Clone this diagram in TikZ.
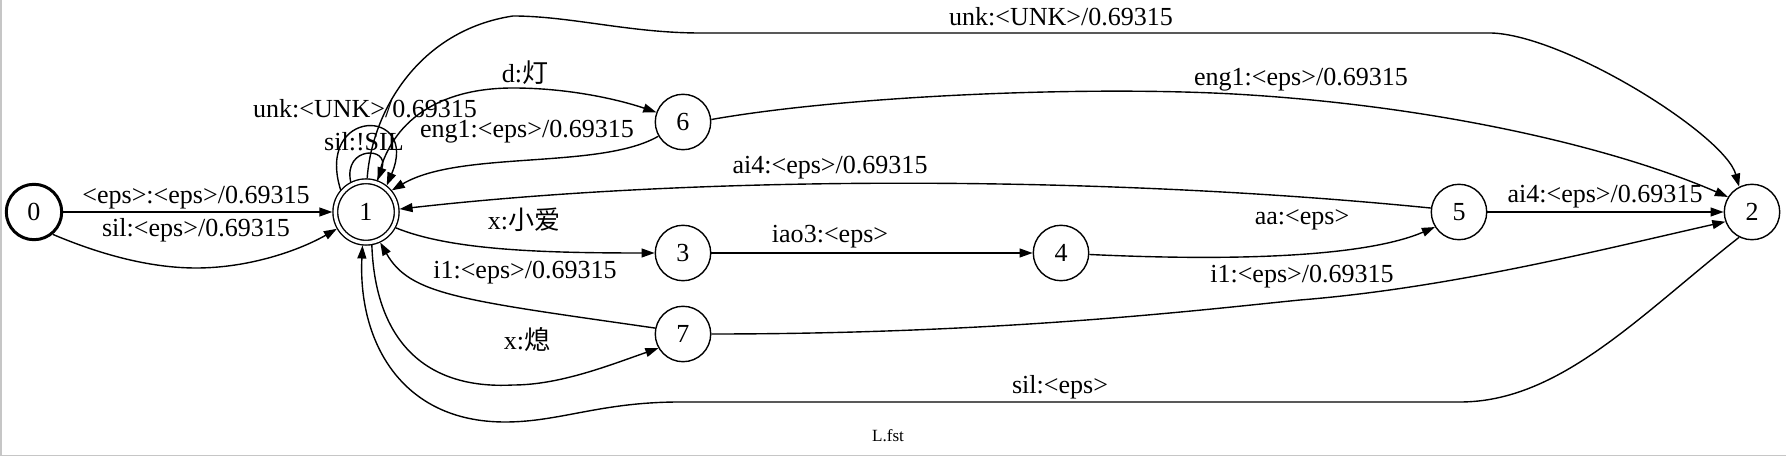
\documentclass[tikz,border=0pt]{standalone}
\usepackage{fontspec}
\setmainfont{Liberation Serif}
\newfontfamily\cjk{Noto Sans CJK SC}
\usetikzlibrary{arrows.meta, automata}

\begin{document}
\begin{tikzpicture}[x=0.5376pt, y=-0.5376pt, ->, >={Triangle[length=7pt,width=4.8pt]},
    line width=0.75pt,
    every state/.style={draw, minimum size=29.8pt, inner sep=0pt, line width=0.75pt,
        font=\fontsize{14}{16}\selectfont},
    lbl/.style={inner sep=0pt, font=\fontsize{14}{16}\selectfont}]

    \useasboundingbox (0,0) rectangle (1786,457);
    \draw[-, gray!45, line width=1pt] (1,0) -- (1,455.5) -- (1786,455.5);

    \node[state, line width=1.6pt] (n0) at (34,212) {0};
    \node[state, accepting, minimum size=33pt, double distance=1.8pt, outer sep=1.6pt] (n1) at (366,212) {1};
    \node[state] (n6) at (683,122)  {6};
    \node[state] (n3) at (683,253)  {3};
    \node[state] (n7) at (683,334)  {7};
    \node[state] (n4) at (1061,253) {4};
    \node[state] (n5) at (1459,212) {5};
    \node[state] (n2) at (1752,212) {2};

    \draw (n0) -- (n1) node[lbl] at (196,198) {<eps>:<eps>/0.69315};
    \draw (n0.-50) .. controls (85,248) and (140,268) .. (196,268)
          .. controls (250,268) and (300,250) .. (n1.-150)
          node[lbl] at (196,230) {sil:<eps>/0.69315};
    \draw (n1.117) .. controls (343,146) and (390,146) .. (n1.70)
          node[lbl] at (364,142) {sil:!SIL};
    \draw (n1.139) .. controls (315,107) and (420,107) .. (n1.52)
          node[lbl] at (365,109) {unk:<UNK>/0.69315};
    \draw (n1.88) .. controls (372,110) and (420,30) .. (513,16)
          .. controls (570,16) and (630,33) .. (700,33) -- (1491,33)
          .. controls (1565,35) and (1725,135) .. (n2.117)
          node[lbl] at (1061,17) {unk:<UNK>/0.69315};
    \draw (n1.70) .. controls (390,120) and (440,88) .. (513,88)
          .. controls (570,88) and (620,100) .. (n6.160)
          node[lbl] at (525,73) {d:{\cjk 灯}};
    \draw (n6.210) .. controls (600,170) and (460,150) .. (n1.40)
          node[lbl] at (527,132) {eng1:<eps>/0.69315};
    \draw (n6.5) .. controls (850,95) and (1100,85) .. (1250,95)
          .. controls (1450,108) and (1620,150) .. (n2.148)
          node[lbl] at (1301,80) {eng1:<eps>/0.69315};
    \draw (n5.172) .. controls (1100,175) and (700,175) .. (n1.5)
          node[lbl] at (830,168) {ai4:<eps>/0.69315};
    \draw (n1.-28) .. controls (450,250) and (540,253) .. (n3)
          node[lbl] at (524,220) {x:{\cjk 小爱}};
    \draw (n3) -- (n4) node[lbl] at (830,237) {iao3:<eps>};
    \draw (n4.-3) .. controls (1250,262) and (1370,255) .. (n5.212)
          node[lbl] at (1302,220) {aa:<eps>};
    \draw (n5) -- (n2) node[lbl] at (1605,197) {ai4:<eps>/0.69315};
    \draw (n7.168) .. controls (460,300) and (410,295) .. (n1.-65)
          node[lbl] at (525,273) {i1:<eps>/0.69315};
    \draw (n1.-80) .. controls (375,335) and (420,390) .. (513,385)
          .. controls (560,385) and (610,365) .. (n7.210)
          node[lbl] at (527,340) {x:{\cjk 熄}};
    \draw (n7) .. controls (1000,334) and (1200,310) .. (1300,300)
          .. controls (1450,288) and (1600,250) .. (n2.200)
          node[lbl] at (1302,277) {i1:<eps>/0.69315};
    \draw (n2.243) .. controls (1640,315) and (1560,402) .. (1460,402) -- (680,402)
          .. controls (600,402) and (560,422) .. (505,422)
          .. controls (400,422) and (358,340) .. (n1.-96)
          node[lbl] at (1060,387) {sil:<eps>};

    \node[font=\fontsize{9.2}{11}\selectfont] (title) at (888,436) {L.fst};
\end{tikzpicture}
\end{document}
